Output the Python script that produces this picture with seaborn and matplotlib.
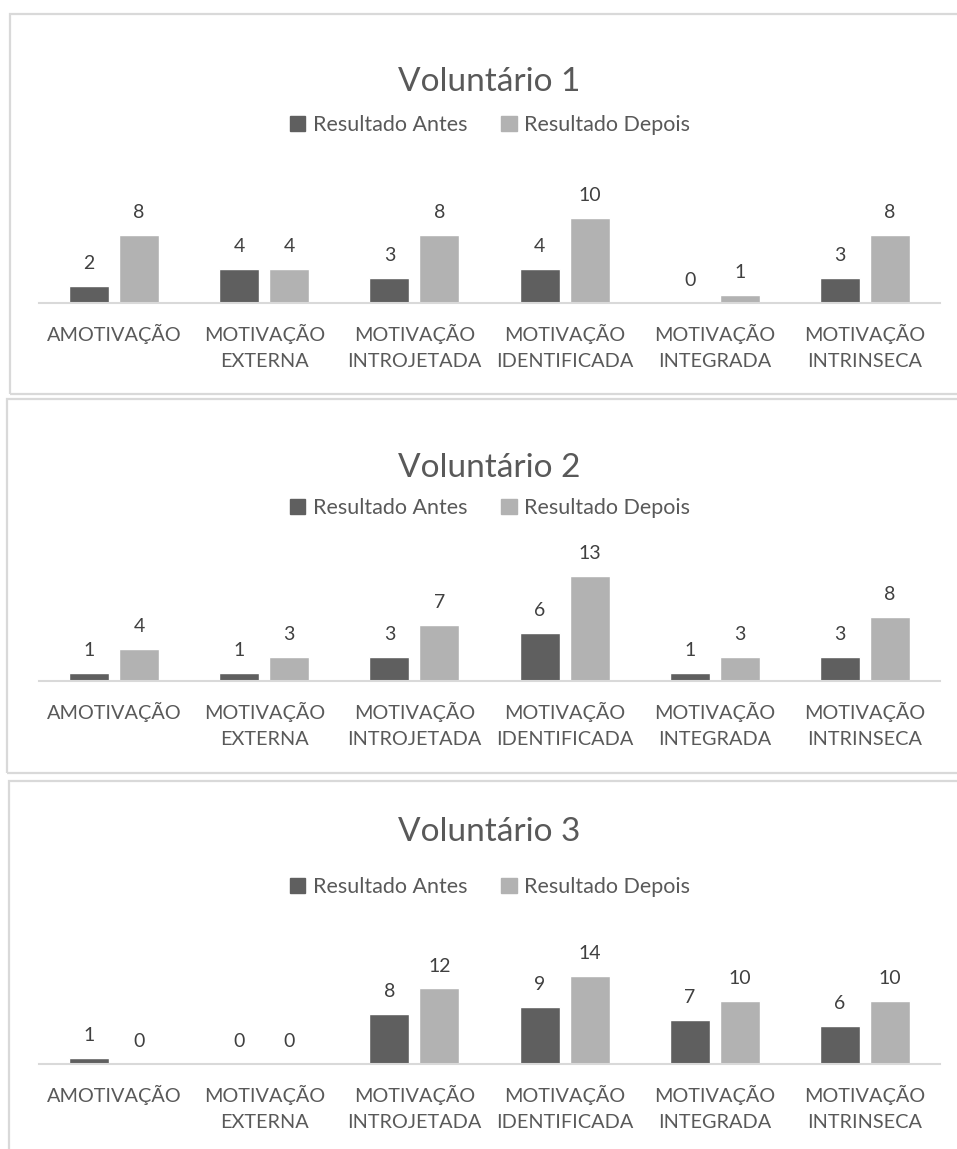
import pandas as pd
import matplotlib
matplotlib.use("Agg")
import matplotlib.pyplot as plt
import seaborn as sns
from matplotlib.patches import Rectangle

# =========================
# DATA
# =========================
categories = ['AMOTIVAÇÃO', 'MOTIVAÇÃO\nEXTERNA', 'MOTIVAÇÃO\nINTROJETADA',
              'MOTIVAÇÃO\nIDENTIFICADA', 'MOTIVAÇÃO\nINTEGRADA', 'MOTIVAÇÃO\nINTRINSECA']
series_names = ['Resultado Antes', 'Resultado Depois']
titles = ['Voluntário 1', 'Voluntário 2', 'Voluntário 3']

v1_antes = [2, 4, 3, 4, 0, 3]
v1_depois = [8, 4, 8, 10, 1, 8]
v2_antes = [1, 1, 3, 6, 1, 3]
v2_depois = [4, 3, 7, 13, 3, 8]
v3_antes = [1, 0, 8, 9, 7, 6]
v3_depois = [0, 0, 12, 14, 10, 10]

# =========================
# STYLE CONFIG
# =========================
sns.set_theme(style="white")
plt.rcParams['font.family'] = ['Lato', 'DejaVu Sans']

DARK = '#5f5f5f'
LIGHT = '#b2b2b2'
TEXT = '#595959'
GRID = '#d9d9d9'

W, H = 957, 1149
fig = plt.figure(figsize=(W / 100, H / 100), dpi=100)

# panel layout in pixels: (border left, border top, border bottom, baseline, px per unit, title y, legend y)
panels = [
    (10, 14, 394, 303, 8.5, 82, 125),
    (7, 399, 773, 681, 8.05, 468, 508),
    (9, 781, 1175, 1064, 6.3, 832, 887),
]
data = [(v1_antes, v1_depois), (v2_antes, v2_depois), (v3_antes, v3_depois)]

AX_LEFT, AX_RIGHT = 39, 940
AX_H = 130

for (bl, bt, bb, base, scale, ty, ly), (antes, depois), title in zip(panels, data, titles):
    # panel border
    fig.patches.append(Rectangle((bl / W, 1 - bb / H), (W + 20 - bl) / W, (bb - bt) / H,
                                 transform=fig.transFigure, fill=False,
                                 edgecolor=GRID, linewidth=1.6, zorder=0))

    df = pd.DataFrame({
        'Categoria': categories * 2,
        'Série': [series_names[0]] * len(categories) + [series_names[1]] * len(categories),
        'Valor': antes + depois,
    })

    ax = fig.add_axes([AX_LEFT / W, 1 - base / H, (AX_RIGHT - AX_LEFT) / W, AX_H / H])
    sns.barplot(data=df, x='Categoria', y='Valor', hue='Série', order=categories,
                hue_order=series_names, palette=[DARK, LIGHT], width=0.667, gap=0.2,
                ax=ax, saturation=1, errorbar=None)
    ax.set_ylim(0, AX_H / scale)
    ax.set_xlim(-0.5, len(categories) - 0.5)
    ax.set_xlabel('')
    ax.set_ylabel('')
    ax.set_yticks([])
    for side in ['top', 'left', 'right']:
        ax.spines[side].set_visible(False)
    ax.spines['bottom'].set_color(GRID)
    ax.spines['bottom'].set_linewidth(1.5)
    ax.tick_params(axis='x', length=0, pad=15, labelsize=14.3, labelcolor=TEXT)
    for lbl in ax.get_xticklabels():
        lbl.set_linespacing(1.62)
    ax.patch.set_alpha(0)

    for cont in ax.containers:
        ax.bar_label(cont, fmt='%d', padding=10, fontsize=14, color='#404040')

    ax.legend_.remove()
    handles = [Rectangle((0, 0), 1, 1, color=DARK), Rectangle((0, 0), 1, 1, color=LIGHT)]
    fig.legend(handles, series_names, loc='center', bbox_to_anchor=(490 / W, 1 - ly / H),
               ncol=2, frameon=False, fontsize=15.5, labelcolor=TEXT,
               handlelength=0.7, handleheight=0.7, handletextpad=0.35, columnspacing=1.6)

    fig.text(489 / W, 1 - ty / H, title, ha='center', va='center', fontsize=24,
             color=TEXT)

fig.savefig('out.png', dpi=100)
